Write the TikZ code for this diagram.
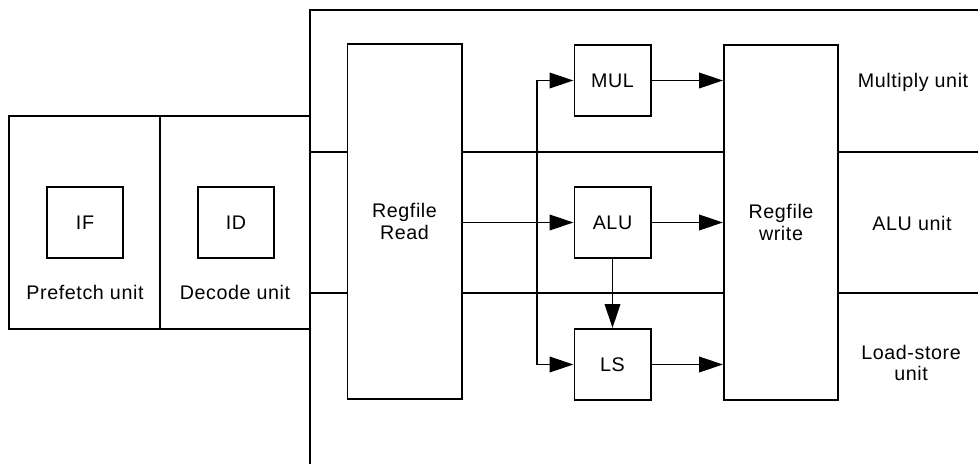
\documentclass[tikz,border=0pt]{standalone}
\usepackage{fontspec}
\setmainfont[LetterSpace=3]{Liberation Sans}
\usetikzlibrary{arrows.meta,positioning}

\begin{document}
\begin{tikzpicture}[x=0.025cm, y=-0.025cm, line width=1.4pt,
  font=\fontsize{14}{15.5}\selectfont,
  stage/.style={draw, minimum width=3.76cm, minimum height=5.325cm, inner sep=0pt},
  unit/.style={draw, fill=white, minimum width=1.9cm, minimum height=1.775cm, inner sep=0pt},
  regfile/.style={draw, fill=white, minimum width=2.85cm, minimum height=8.85cm,
    align=center, inner sep=0pt},
  lbl/.style={align=center, inner sep=0pt},
  flow/.style={-{Triangle[length=17pt, width=11pt]}}]
  \useasboundingbox (0,0) rectangle (978,464);

  % Front end: prefetch and decode stages.
  \node[stage] (pf) at (84.5,222.5) {};
  \node[stage] (dc) at (235,222.5) {};
  \node[unit] (if) at (85,222.5) {IF};
  \node[unit] (id) at (236,222.5) {ID};
  \node[lbl] (pflbl) at (85,292) {Prefetch unit};
  \node[lbl] (dclbl) at (235,292) {Decode unit};

  % Execution frame and lane separators.
  \draw (978,10) -- (310,10) -- (310,464);
  \foreach \y in {152,293}{
    \draw (310,\y) -- (978,\y);
  }

  % Register file stages.
  \node[regfile] (rfr) at (404.5,221.5) {Regfile\\Read};
  \node[regfile] (rfw) at (781,222.5) {Regfile\\write};

  % Functional units.
  \node[unit] (mul) at (612.5,80.5) {MUL};
  \node[unit] (alu) at (612.5,222.5) {ALU};
  \node[unit] (ls) at (612.5,364.5) {LS};

  % Lane labels.
  \node[lbl] (mullbl) at (913,82) {Multiply unit};
  \node[lbl] (alulbl) at (912,223) {ALU unit};
  \node[lbl] (lslbl) at (911,363) {Load-store\\unit};

  % Operand bus.
  \coordinate (bustop) at (537,80.5);
  \coordinate (busbot) at (537,364.5);
  \draw (bustop) -- (busbot);
  \draw[flow] (bustop) -- (mul.west);
  \draw[flow] (busbot) -- (ls.west);
  \draw[flow] (rfr.east |- alu.west) -- (alu.west);
  \draw[flow] (alu) -- (ls);

  % Results to write-back.
  \foreach \u in {mul,alu,ls}{
    \draw[flow] (\u.east) -- (\u.east -| rfw.west);
  }
\end{tikzpicture}
\end{document}
